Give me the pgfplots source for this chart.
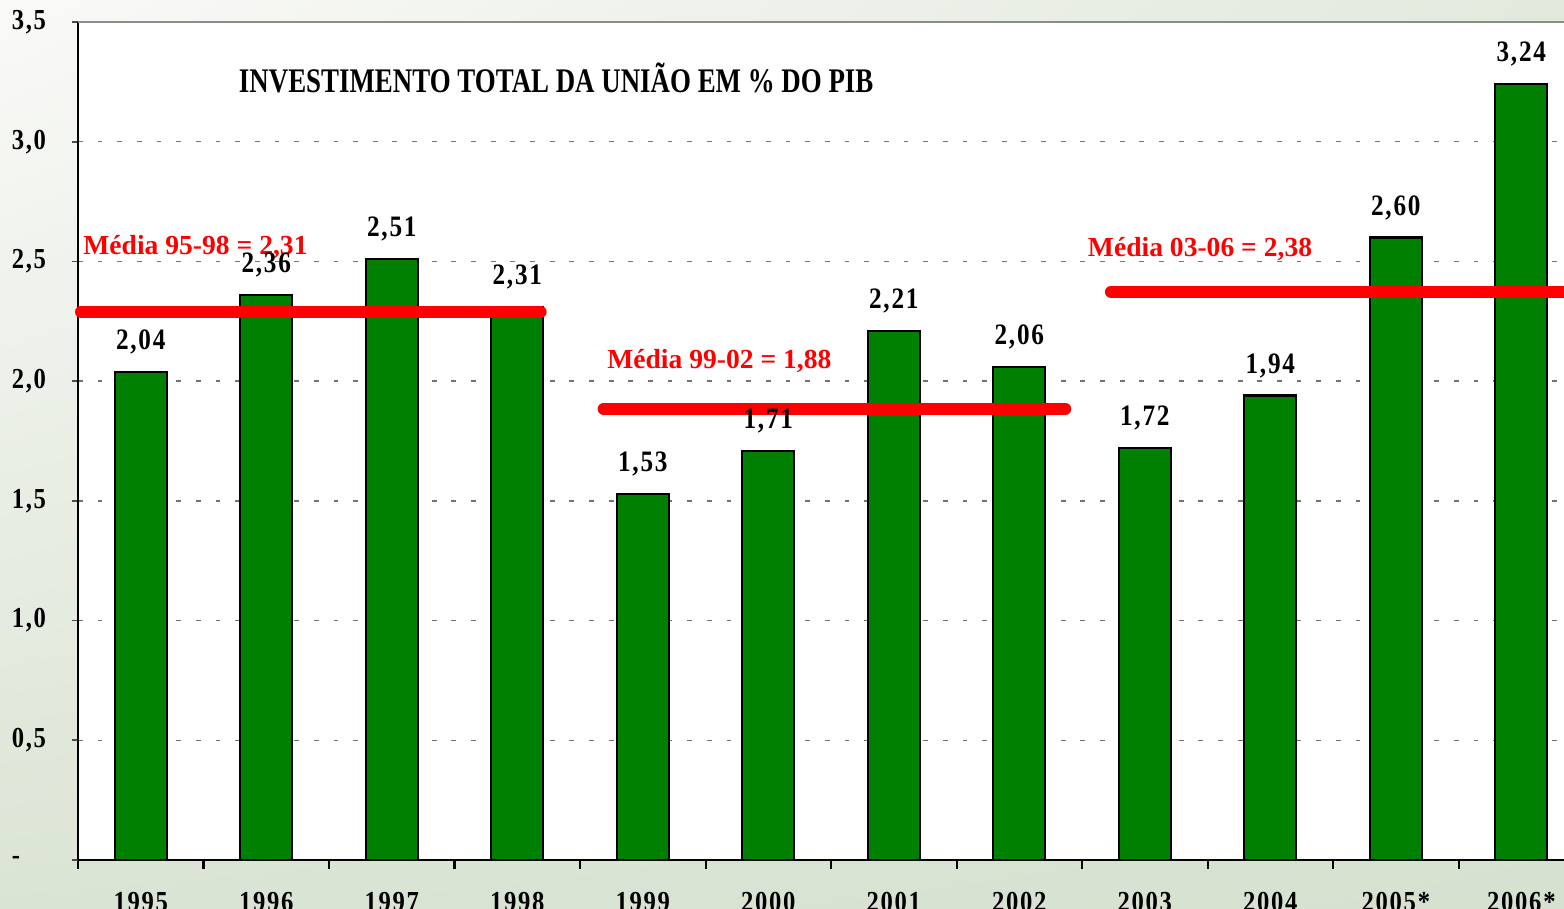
\documentclass[border=0pt]{standalone}
\usepackage{fontspec}
\setmainfont{Liberation Serif}
\newfontfamily\ttl[FakeStretch=0.78]{Liberation Serif}
\newfontfamily\spc[FakeStretch=0.85,LetterSpace=6]{Liberation Serif}
\usepackage{pgfplots}
\pgfplotsset{compat=1.18}
\usetikzlibrary{backgrounds,calc,shadings}
\definecolor{barG}{RGB}{0,128,0}
\definecolor{bgA}{RGB}{250,250,248}
\definecolor{bgB}{RGB}{218,228,212}
\definecolor{bgC}{RGB}{226,233,221}
\definecolor{bgD}{RGB}{214,225,208}
\begin{document}
\begin{tikzpicture}
\begin{axis}[
  scale only axis,
  width=430.94pt,height=243.02pt,
  xmin=-0.5,xmax=11.34,ymin=0,ymax=3.5,
  clip=false,
  axis x line*=bottom,axis y line*=left,
  axis line style={-,black,line width=0.6pt},
  axis background/.style={fill=white},
  xtick={0,...,11},
  xticklabels={1995,1996,1997,1998,1999,2000,2001,2002,2003,2004,2005*,2006*},
  minor xtick={-0.5,0.5,...,10.5},
  major x tick style={draw=none},
  minor x tick style={black,line width=0.6pt},
  tick align=outside,
  major tick length=1.74pt,
  minor tick length=2.6pt,
  ytick={0,0.5,...,3.5},
  yticklabels={-,{0,5},{1,0},{1,5},{2,0},{2,5},{3,0},{3,5}},
  y tick style={black!70,line width=0.5pt},
  ymajorgrids,
  grid style={black!55,line width=0.45pt,dash pattern=on 1.4pt off 4.3pt},
  xticklabel style={font=\spc\bfseries\fontsize{8.4}{9}\selectfont,yshift=-4pt},
  yticklabel style={font=\spc\bfseries\fontsize{8.4}{9}\selectfont,anchor=west,xshift=-21pt},
  /pgf/number format/.cd,fixed,fixed zerofill,precision=2,use comma,assume math mode=true,
]
\addplot[ybar,bar width=15.08pt,fill=barG,draw=black,line width=0.6pt,
  nodes near coords,
  every node near coord/.append style={font=\spc\bfseries\fontsize{8.6}{10}\selectfont,black,yshift=1.5pt}]
  coordinates {(0,2.04)(1,2.36)(2,2.51)(3,2.31)(4,1.53)(5,1.71)(6,2.21)(7,2.06)(8,1.72)(9,1.94)(10,2.60)(11,3.24)};
\addplot[red,line width=3.48pt,line cap=round] coordinates {(-0.476,2.289)(3.186,2.289)};
\addplot[red,line width=3.48pt,line cap=round] coordinates {(3.688,1.884)(7.366,1.884)};
\addplot[red,line width=3.48pt,line cap=round] coordinates {(7.73,2.373)(12,2.373)};
\node[font=\ttl\bfseries\fontsize{10}{12}\selectfont] at (axis cs:3.31,3.267) {INVESTIMENTO TOTAL DA UNIÃO EM \% DO PIB};
\node[red,font=\bfseries\fontsize{8}{9}\selectfont] at (axis cs:0.436,2.561) {Média 95-98 = 2,31};
\node[red,font=\bfseries\fontsize{8}{9}\selectfont] at (axis cs:4.61,2.084) {Média 99-02 = 1,88};
\node[red,font=\bfseries\fontsize{8}{9}\selectfont] at (axis cs:8.44,2.552) {Média 03-06 = 2,38};
\draw[black!45,line width=0.6pt] (rel axis cs:0,1) -- (rel axis cs:1,1);
\coordinate (SW) at (rel axis cs:0,0);
\coordinate (NE) at (rel axis cs:1,1);
\end{axis}
\begin{scope}[on background layer]
\shade[upper left=bgA,upper right=bgC,lower left=bgB,lower right=bgD]
  ($(SW)+(-22.62pt,-14.21pt)$) rectangle ($(NE)+(0,6.38pt)$);
\end{scope}
\pgfresetboundingbox
\path[use as bounding box] ($(SW)+(-22.62pt,-14.21pt)$) rectangle ($(NE)+(0,6.38pt)$);
\end{tikzpicture}
\end{document}
